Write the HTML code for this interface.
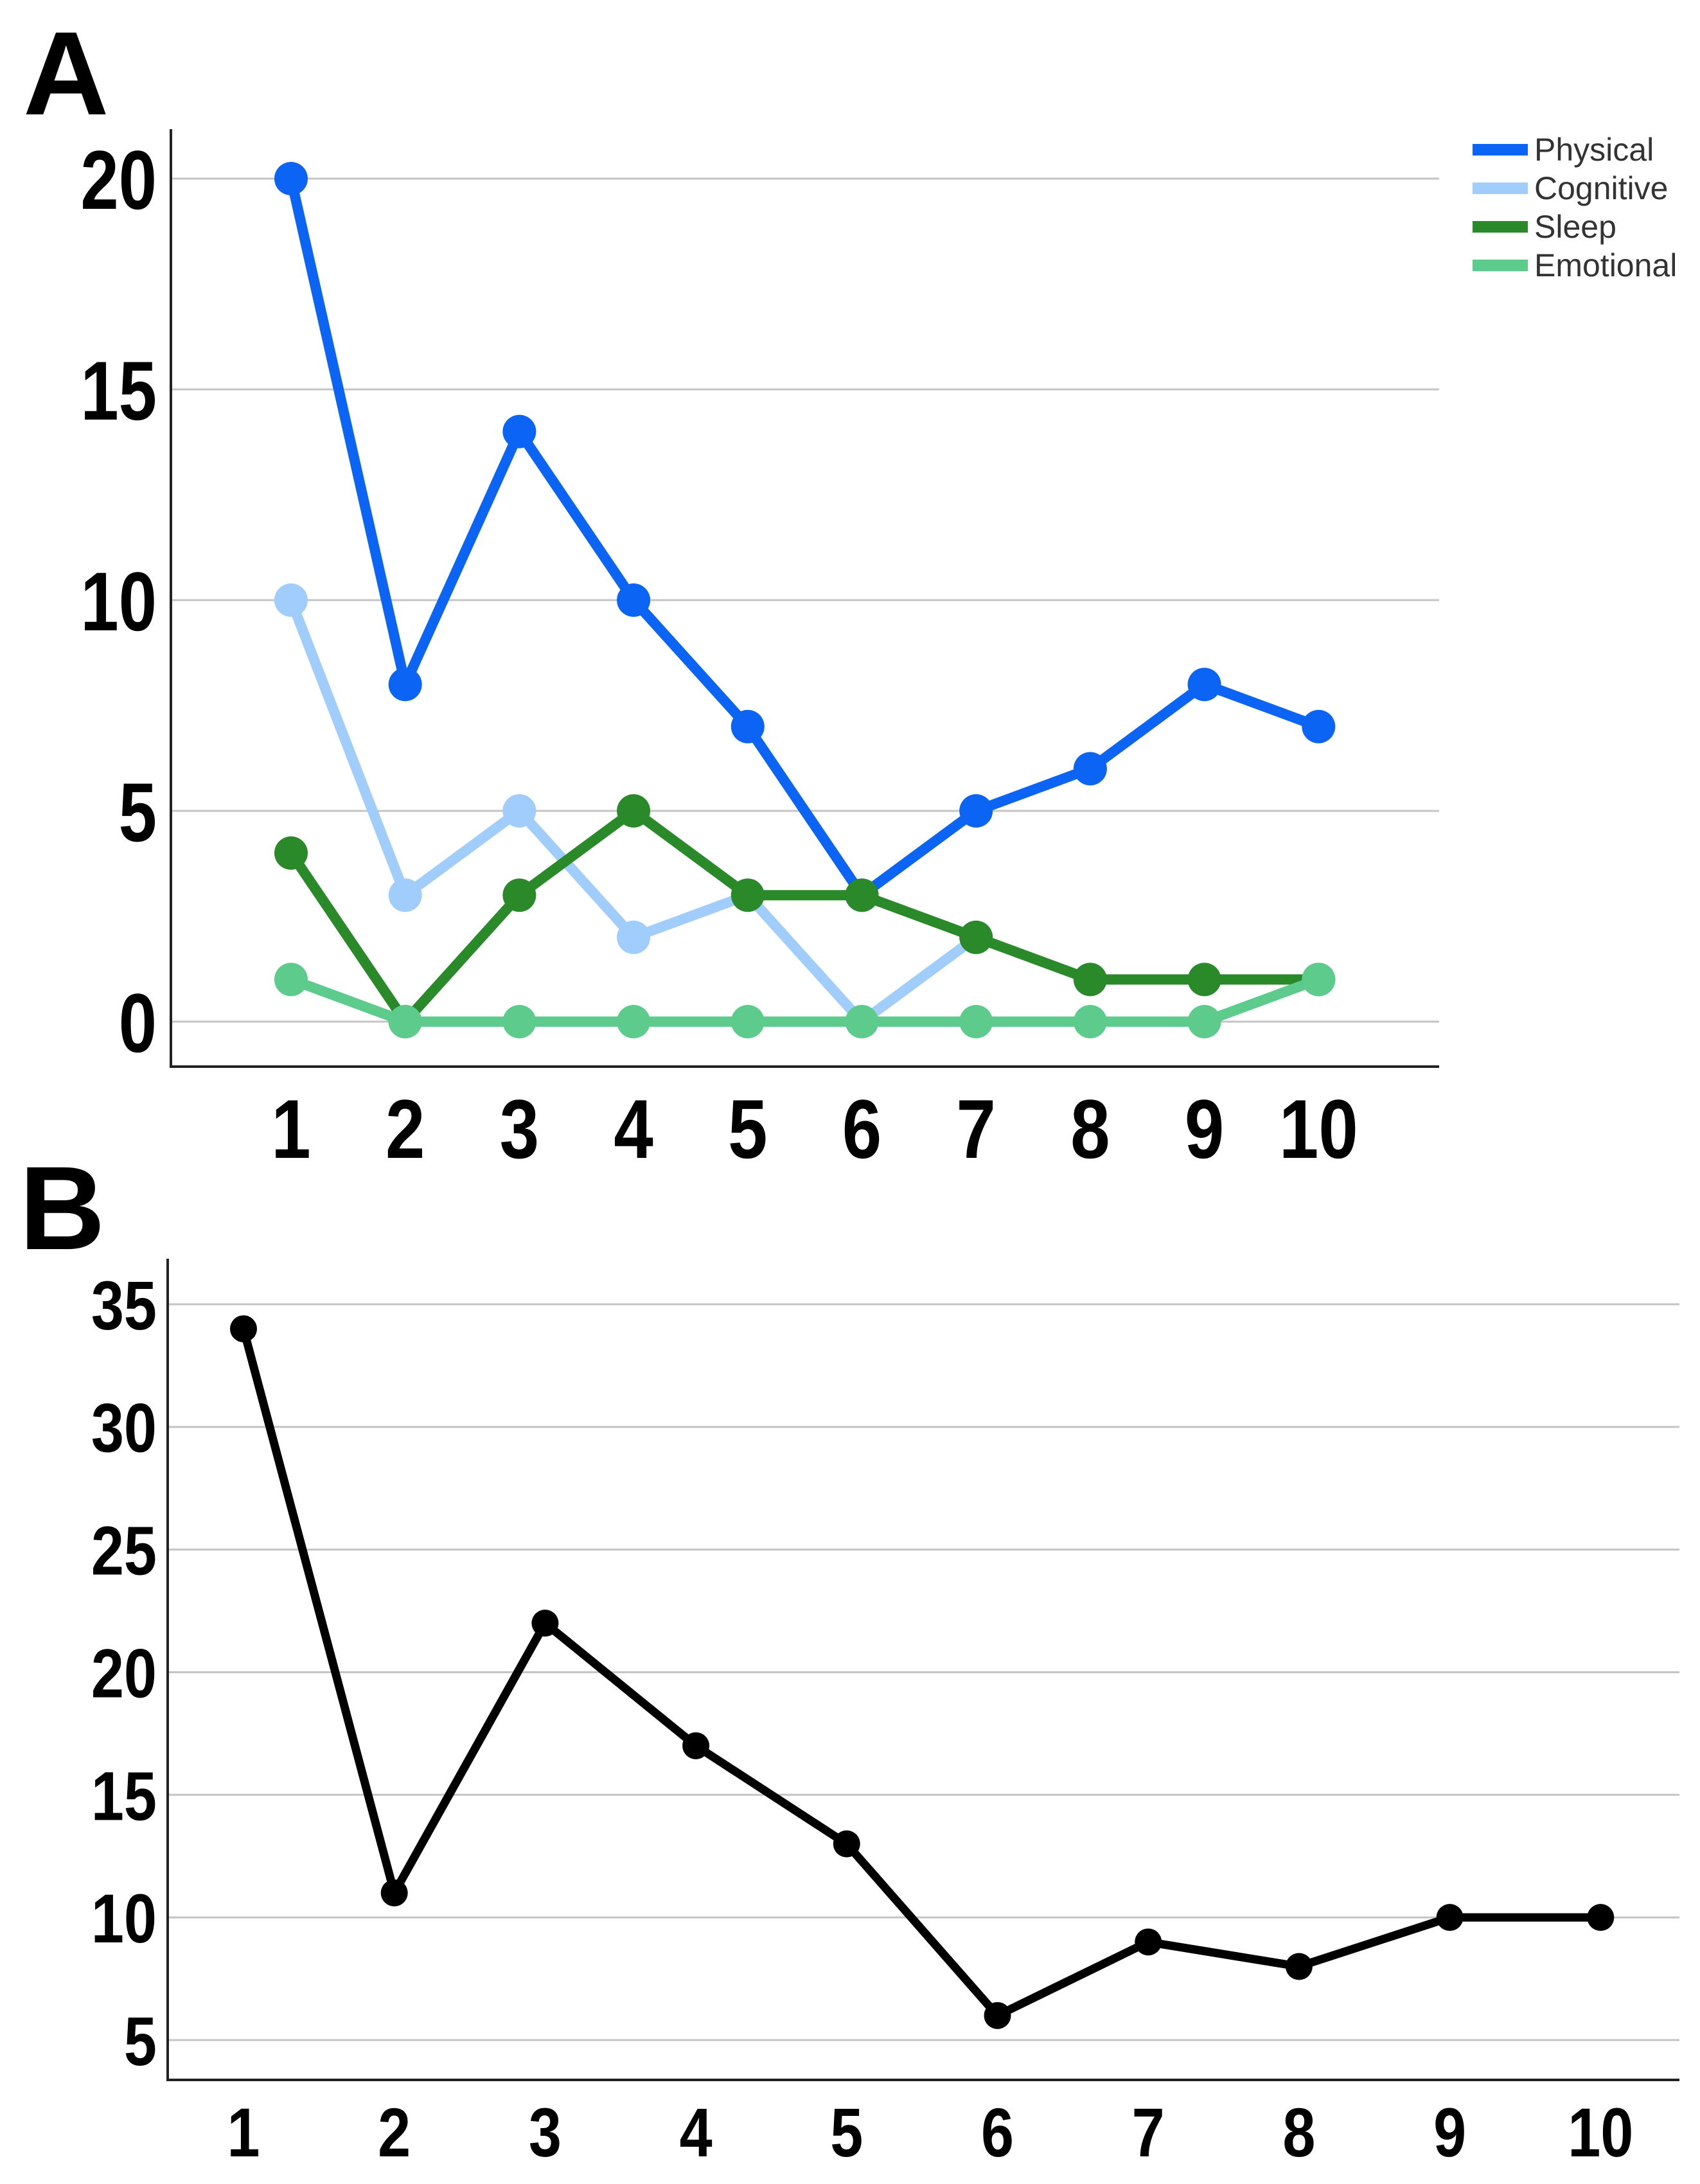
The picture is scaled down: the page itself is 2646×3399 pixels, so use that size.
<!DOCTYPE html>
<html><head><meta charset="utf-8"><style>
html,body{margin:0;padding:0;background:#fff;}
svg{display:block;}
text{font-family:"Liberation Sans",sans-serif;}
</style></head><body>
<svg id="s" width="2646" height="3399" viewBox="0 0 2646 3399" xmlns="http://www.w3.org/2000/svg">
<text x="36" y="178" font-size="185" font-weight="bold">A</text>
<text x="30" y="1944" font-size="185" font-weight="bold">B</text>
<g id="ga"></g>
<g id="gb"></g>
</svg>
<script>
const categories = [1,2,3,4,5,6,7,8,9,10];
const physical = [20,8,14,10,7,3,5,6,8,7];
const cognitive = [10,3,5,2,3,0,2,1,1,1];
const sleep = [4,0,3,5,3,3,2,1,1,1];
const emotional = [1,0,0,0,0,0,0,0,0,1];
const ticksA = [0,5,10,15,20];
const total = [34,11,22,17,13,6,9,8,10,10];
const ticksB = [5,10,15,20,25,30,35];
const NS = "http://www.w3.org/2000/svg";
function mk(p, tag, attrs){const e=document.createElementNS(NS,tag);for(const k in attrs)e.setAttribute(k,attrs[k]);p.appendChild(e);return e;}

// Chart A
const ga = document.getElementById('ga');
const xA = c => 453 + (c-1)*177.7;
const yA = v => 1590 - v*65.6;
ticksA.forEach(t=>{
  const l=mk(ga,'line',{x1:266,x2:2240,y1:yA(t),y2:yA(t),stroke:'#c4c4c4','stroke-width':3});
  
  
  const tx=mk(ga,'text',{x:244,y:yA(t)+47,'text-anchor':'end','font-size':130,'font-weight':'bold',transform:`translate(244 0) scale(0.82 1) translate(-244 0)`});
  tx.textContent=t;
  
  
});
categories.forEach(c=>{
  const tx=mk(ga,'text',{x:0,y:1802,'text-anchor':'middle','font-size':130,'font-weight':'bold',transform:`translate(${xA(c)} 0) scale(0.85 1)`});
  tx.textContent=c;
  
  
});
const axA=mk(ga,'path',{d:'M266 201 V1660 H2240',fill:'none',stroke:'#222','stroke-width':4});


const seriesA=[['cognitive',cognitive,'#a0cdfb'],['physical',physical,'#0b64f4'],['sleep',sleep,'#2a8a2a'],['emotional',emotional,'#5ccb8b']];
seriesA.forEach(([n,d,col])=>{
  const pl=mk(ga,'polyline',{points:d.map((v,i)=>xA(categories[i])+','+yA(v)).join(' '),fill:'none',stroke:col,'stroke-width':16,'stroke-linejoin':'round'});
  
  
  d.forEach((v,i)=>{
    const m=mk(ga,'circle',{cx:xA(categories[i]),cy:yA(v),r:26,fill:col});
    
    
  });
});
const legend=[['Physical','#0b64f4'],['Cognitive','#a0cdfb'],['Sleep','#2a8a2a'],['Emotional','#5ccb8b']];
legend.forEach(([n,col],i)=>{
  const y=233+i*60;
  const g=mk(ga,'g',{});
  
  
  mk(g,'rect',{x:2292,y:y-9,width:86,height:18,fill:col});
  const t=mk(g,'text',{x:2388,y:y+17,'font-size':50,fill:'#333'});
  t.textContent=n;
});

// Chart B
const gb = document.getElementById('gb');
const xB = c => 379 + (c-1)*234.7;
const yB = v => 3175 - (v-5)*38.17;
ticksB.forEach(t=>{
  const l=mk(gb,'line',{x1:261,x2:2614,y1:yB(t),y2:yB(t),stroke:'#c4c4c4','stroke-width':3});
  
  
  const tx=mk(gb,'text',{x:244,y:yB(t)+39,'text-anchor':'end','font-size':108,'font-weight':'bold',transform:`translate(244 0) scale(0.85 1) translate(-244 0)`});
  tx.textContent=t;
  
  
});
categories.forEach(c=>{
  const tx=mk(gb,'text',{x:0,y:3356,'text-anchor':'middle','font-size':108,'font-weight':'bold',transform:`translate(${xB(c)} 0) scale(0.85 1)`});
  tx.textContent=c;
  
  
});
const axB=mk(gb,'path',{d:'M261 1959 V3237 H2614',fill:'none',stroke:'#222','stroke-width':4});


const plB=mk(gb,'polyline',{points:total.map((v,i)=>xB(categories[i])+','+yB(v)).join(' '),fill:'none',stroke:'#000','stroke-width':13,'stroke-linejoin':'round'});


total.forEach((v,i)=>{
  const m=mk(gb,'circle',{cx:xB(categories[i]),cy:yB(v),r:21,fill:'#000'});
  
  
});
</script>
</body></html>
